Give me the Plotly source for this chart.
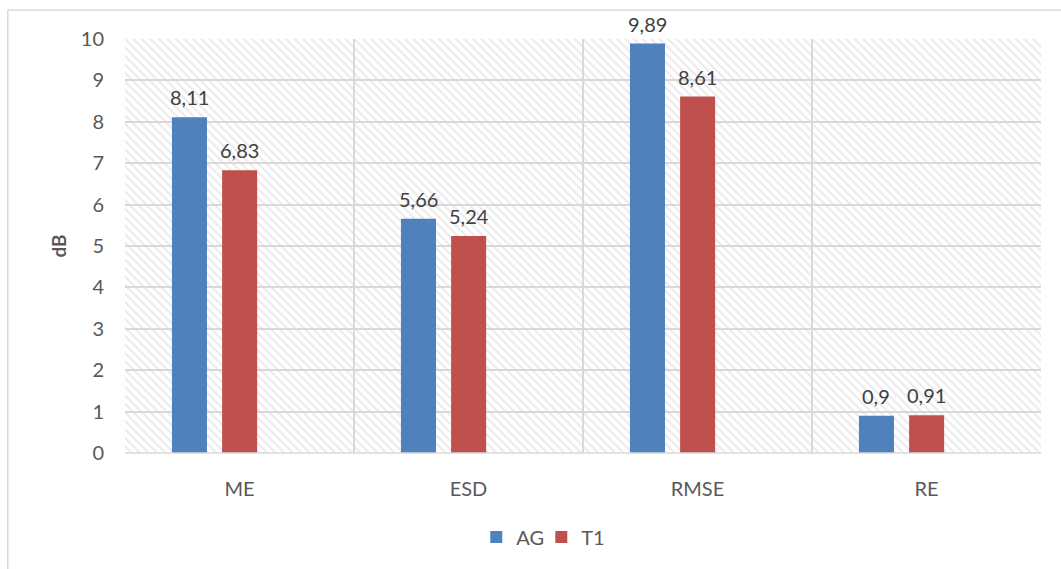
import plotly.graph_objects as go

categories = ["ME", "ESD", "RMSE", "RE"]
ag_values = [8.11, 5.66, 9.89, 0.90]
t1_values = [6.83, 5.24, 8.61, 0.91]
ag_labels = ["8,11", "5,66", "9,89", "0,9"]
t1_labels = ["6,83", "5,24", "8,61", "0,91"]
y_ticks = list(range(0, 11))

FONT = "Lato, Liberation Sans, sans-serif"
xpos = list(range(len(categories)))
x_lo, x_hi = -0.5, len(categories) - 0.5
y_lo, y_hi = y_ticks[0], y_ticks[-1]

fig = go.Figure()

# hatched background of the plot area (decoration, drawn first so it sits below the bars)
fig.add_trace(go.Bar(
    x=[(x_lo + x_hi) / 2], y=[y_hi - y_lo], base=[y_lo], width=[x_hi - x_lo], offset=[-(x_hi - x_lo) / 2],
    marker=dict(color="rgba(0,0,0,0)", line=dict(width=0),
                pattern=dict(shape="\\", fgcolor="#d6d6d6", bgcolor="rgba(255,255,255,0)",
                             size=6, solidity=0.35)),
    hoverinfo="skip", showlegend=False))

bw = 0.153
series = [("AG", ag_values, ag_labels, "#4F81BD", -0.295),
          ("T1", t1_values, t1_labels, "#C0504D", -0.076)]

annotations = []
for name, vals, labels, color, off in series:
    fig.add_trace(go.Bar(
        name=name, x=xpos, y=vals, width=bw, offset=off,
        marker=dict(color=color, line=dict(width=0))))
    for xi, v, lab in zip(xpos, vals, labels):
        annotations.append(dict(x=xi + off + bw / 2, y=v, xref="x", yref="y", text=lab,
                                showarrow=False, yanchor="bottom", yshift=6,
                                font=dict(size=20, color="#404040", family=FONT)))

fig.update_layout(
    width=1061, height=569,
    margin=dict(l=125, r=20, t=39, b=116),
    paper_bgcolor="white", plot_bgcolor="white",
    font=dict(family=FONT, size=20, color="#595959"),
    barmode="overlay",
    annotations=annotations,
    xaxis=dict(range=[x_lo, x_hi], tickvals=xpos, ticktext=categories,
               showgrid=False, zeroline=False, showline=False, ticks="",
               ticklabelstandoff=22,
               minor=dict(tick0=0.5, dtick=1, showgrid=True, gridcolor="#d9d9d9", gridwidth=1.5, ticks="")),
    yaxis=dict(range=[y_lo, y_hi], tickvals=y_ticks, showgrid=True, gridcolor="#d9d9d9", gridwidth=1.5,
               zeroline=False, showline=False, ticks="", ticklabelstandoff=20,
               title=dict(text="<b>dB</b>", font=dict(size=19, color="#595959"), standoff=9)),
    legend=dict(orientation="h", x=0.3835, xanchor="left", y=-0.203, yanchor="middle",
                font=dict(size=20, color="#595959"), itemwidth=30, entrywidth=20),
    shapes=[
        dict(type="line", xref="paper", yref="paper", x0=0, x1=1, y0=0, y1=0,
             line=dict(color="#d9d9d9", width=1.5)),
        dict(type="line", xref="paper", yref="paper", x0=-0.128, x1=-0.128, y0=-0.3, y1=1.07,
             line=dict(color="#d9d9d9", width=1.5)),
        dict(type="line", xref="paper", yref="paper", x0=-0.128, x1=1.1, y0=1.07, y1=1.07,
             line=dict(color="#d9d9d9", width=1.5)),
    ],
)

fig.write_html("out.html")
